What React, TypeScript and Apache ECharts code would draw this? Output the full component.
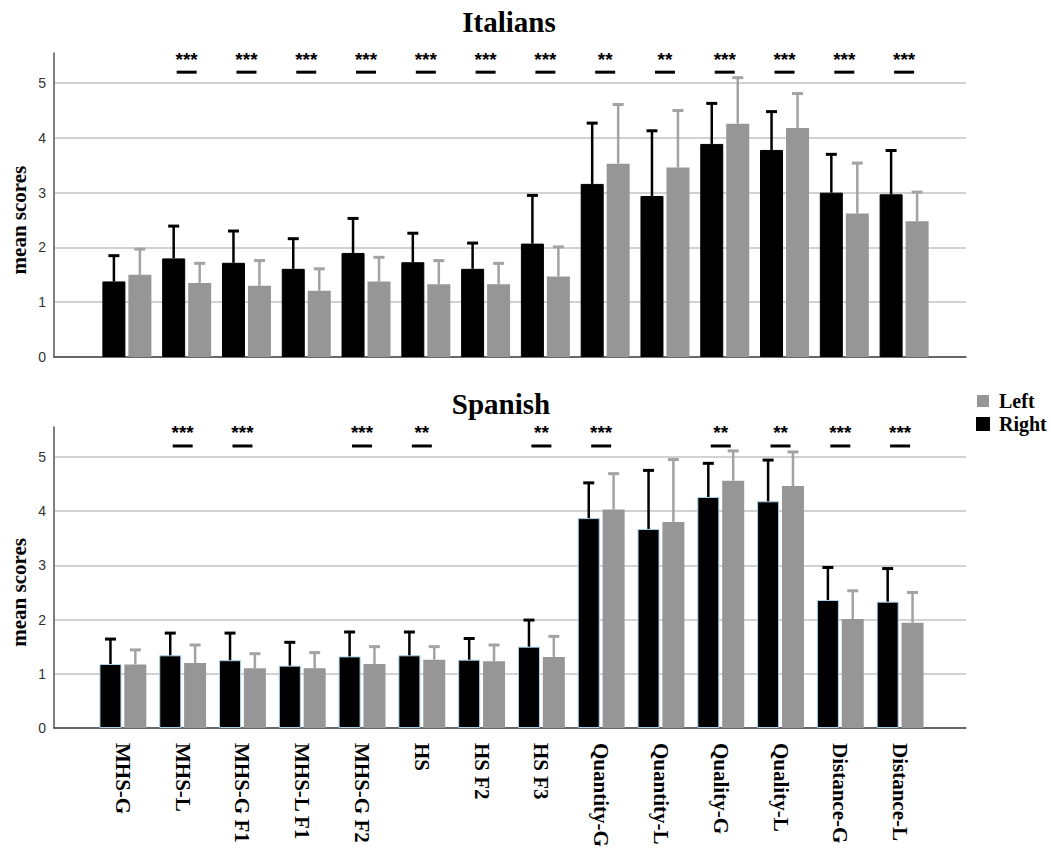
import React, { useEffect, useRef } from "react";
import * as echarts from "echarts";

// Subscale names shared by both panels
const categories = [
  "MHS-G", "MHS-L", "MHS-G F1", "MHS-L F1", "MHS-G F2", "HS", "HS F2", "HS F3",
  "Quantity-G", "Quantity-L", "Quality-G", "Quality-L", "Distance-G", "Distance-L",
];

// Italians: means and standard deviations per hand
const italiansRight = [1.38, 1.80, 1.72, 1.61, 1.90, 1.73, 1.61, 2.07, 3.16, 2.94, 3.89, 3.78, 3.00, 2.97];
const italiansRightSd = [0.47, 0.59, 0.58, 0.55, 0.63, 0.53, 0.47, 0.88, 1.11, 1.19, 0.74, 0.70, 0.70, 0.80];
const italiansLeft = [1.50, 1.35, 1.30, 1.21, 1.38, 1.33, 1.33, 1.47, 3.53, 3.46, 4.26, 4.18, 2.62, 2.48];
const italiansLeftSd = [0.47, 0.36, 0.46, 0.40, 0.44, 0.43, 0.38, 0.54, 1.08, 1.04, 0.84, 0.63, 0.92, 0.53];
const italiansSig = ["", "***", "***", "***", "***", "***", "***", "***", "**", "**", "***", "***", "***", "***"];

// Spanish: means and standard deviations per hand
const spanishRight = [1.18, 1.34, 1.25, 1.15, 1.32, 1.34, 1.26, 1.50, 3.87, 3.67, 4.26, 4.18, 2.36, 2.33];
const spanishRightSd = [0.46, 0.41, 0.50, 0.43, 0.45, 0.43, 0.39, 0.49, 0.65, 1.08, 0.62, 0.76, 0.60, 0.61];
const spanishLeft = [1.17, 1.20, 1.10, 1.10, 1.18, 1.26, 1.23, 1.31, 4.03, 3.80, 4.56, 4.46, 2.01, 1.94];
const spanishLeftSd = [0.27, 0.33, 0.27, 0.29, 0.32, 0.24, 0.30, 0.38, 0.66, 1.15, 0.55, 0.63, 0.52, 0.56];
const spanishSig = ["", "***", "***", "", "***", "**", "", "**", "***", "", "**", "**", "***", "***"];

// Value axis
const yTicks = [0, 1, 2, 3, 4, 5];
const Y_TOP = 5.55;
const SIG_LEVEL = 5.2;

const SERIF = "'Liberation Serif', 'Times New Roman', serif";
const SANS = "'Liberation Sans', Arial, sans-serif";
const RIGHT_COLOR = "#000000";
const LEFT_COLOR = "#969696";
const LEFT_ERR_COLOR = "#a3a3a3";
const BAR_GAP = 0.13;
const CAP_WIDTH = 11;
const W = 1051;
const H = 850;

type Panel = {
  title: string;
  titleX: number;
  titleTop: number;
  top: number; // pixel of Y_TOP
  zero: number; // pixel of value 0
  barsLeft: number;
  barsRight: number;
  barWidth: number;
  right: number[];
  rightSd: number[];
  left: number[];
  leftSd: number[];
  sig: string[];
  showLabels: boolean;
  rightBorder: string;
};

const panels: Panel[] = [
  {
    title: "Italians", titleX: 504, titleTop: 2, top: 53, zero: 357,
    barsLeft: 97, barsRight: 934, barWidth: 23,
    right: italiansRight, rightSd: italiansRightSd, left: italiansLeft, leftSd: italiansLeftSd,
    sig: italiansSig, showLabels: false, rightBorder: "#000000",
  },
  {
    title: "Spanish", titleX: 496, titleTop: 384, top: 427, zero: 728,
    barsLeft: 93, barsRight: 930, barWidth: 22,
    right: spanishRight, rightSd: spanishRightSd, left: spanishLeft, leftSd: spanishLeftSd,
    sig: spanishSig, showLabels: true, rightBorder: "#a9d3ea",
  },
];

const FRAME_LEFT = 54;
const FRAME_RIGHT = 966;

function errorSeries(name: string, means: number[], sds: number[], color: string, side: number,
  axisIndex: number, barWidth: number) {
  const offset = (barWidth * (1 + BAR_GAP)) / 2;
  return {
    type: "custom",
    name: name + " SD",
    xAxisIndex: axisIndex,
    yAxisIndex: axisIndex,
    silent: true,
    z: 3,
    data: means.map((m, i) => [i, m, m + sds[i]]),
    renderItem: (_params: any, api: any) => {
      const i = api.value(0);
      const base = api.coord([i, api.value(1)]);
      const top = api.coord([i, api.value(2)]);
      const x = base[0] + side * offset;
      return {
        type: "group",
        children: [
          { type: "line", shape: { x1: x, y1: base[1], x2: x, y2: top[1] }, style: { stroke: color, lineWidth: 2.5 } },
          {
            type: "line",
            shape: { x1: x - CAP_WIDTH / 2, y1: top[1], x2: x + CAP_WIDTH / 2, y2: top[1] },
            style: { stroke: color, lineWidth: 3 },
          },
        ],
      };
    },
  };
}

function buildOption() {
  const grid: any[] = [];
  const xAxis: any[] = [];
  const yAxis: any[] = [];
  const series: any[] = [];
  const title: any[] = [];

  panels.forEach((p, pi) => {
    const height = p.zero - p.top;
    const unit = height / Y_TOP;
    const fiveTop = p.zero - unit * 5;
    const base = pi * 3;

    title.push({
      text: p.title, left: p.titleX, top: p.titleTop, textAlign: "center",
      textStyle: { fontFamily: SERIF, fontWeight: "bold", fontSize: 29, color: "#000" },
    });

    // frame: value axis line, tick labels and baseline
    grid.push({ left: FRAME_LEFT, width: FRAME_RIGHT - FRAME_LEFT, top: p.top, height });
    xAxis.push({
      type: "value", gridIndex: base, min: 0, max: 1, position: "bottom",
      axisLine: { show: true, onZero: false, lineStyle: { color: "#444", width: 1.5 } },
      axisTick: { show: false }, axisLabel: { show: false }, splitLine: { show: false },
    });
    yAxis.push({
      type: "value", gridIndex: base, min: 0, max: Y_TOP, interval: 1,
      axisLine: { show: true, lineStyle: { color: "#555", width: 1.5 } },
      axisTick: { show: false }, splitLine: { show: false },
      axisLabel: {
        margin: 8, fontFamily: SANS, fontSize: 14, color: "#333",
        formatter: (v: number) => (yTicks.includes(v) ? String(v) : ""),
      },
    });

    // horizontal gridlines from 0 to 5, plus axis title
    grid.push({ left: FRAME_LEFT, width: FRAME_RIGHT - FRAME_LEFT, top: fiveTop, height: p.zero - fiveTop });
    xAxis.push({ type: "value", gridIndex: base + 1, min: 0, max: 1, show: false });
    yAxis.push({
      type: "value", gridIndex: base + 1, min: 0, max: 5, interval: 1,
      axisLine: { show: false }, axisTick: { show: false }, axisLabel: { show: false },
      splitLine: { show: true, lineStyle: { color: "#c2c2c2", width: 1.5 } },
      name: "mean scores", nameLocation: "middle", nameRotate: 90, nameGap: 26,
      nameTextStyle: { fontFamily: SERIF, fontWeight: "bold", fontSize: 21, color: "#000" },
    });

    // bars
    grid.push({ left: p.barsLeft, width: p.barsRight - p.barsLeft, top: p.top, height });
    xAxis.push({
      type: "category", gridIndex: base + 2, data: categories,
      axisLine: { show: false }, axisTick: { show: false },
      axisLabel: {
        show: p.showLabels, rotate: -90, margin: 15, interval: 0,
        fontFamily: SERIF, fontWeight: "bold", fontSize: 21, color: "#000",
      },
    });
    yAxis.push({ type: "value", gridIndex: base + 2, min: 0, max: Y_TOP, show: false, splitLine: { show: false } });

    series.push({
      type: "bar", name: "Right", xAxisIndex: base + 2, yAxisIndex: base + 2,
      data: p.right, barWidth: p.barWidth, barGap: `${BAR_GAP * 100}%`,
      itemStyle: { color: RIGHT_COLOR, borderColor: p.rightBorder, borderWidth: 1 },
    });
    series.push({
      type: "bar", name: "Left", xAxisIndex: base + 2, yAxisIndex: base + 2,
      data: p.left, barWidth: p.barWidth, barGap: `${BAR_GAP * 100}%`,
      itemStyle: { color: LEFT_COLOR },
    });
    series.push(errorSeries("Right", p.right, p.rightSd, RIGHT_COLOR, -1, base + 2, p.barWidth));
    series.push(errorSeries("Left", p.left, p.leftSd, LEFT_ERR_COLOR, 1, base + 2, p.barWidth));

    // significance markers
    series.push({
      type: "scatter", name: "sig", xAxisIndex: base + 2, yAxisIndex: base + 2, silent: true,
      symbol: "rect", symbolSize: [20, 3], itemStyle: { color: "#000", opacity: 1 },
      data: p.sig.map((s, i) => (s ? [i, SIG_LEVEL, s] : null)).filter((d) => d !== null),
      label: {
        show: true, position: "top", distance: 2,
        formatter: (d: any) => d.value[2],
        fontFamily: SANS, fontWeight: "bold", fontSize: 19, color: "#000",
      },
    });
  });

  return {
    animation: false,
    backgroundColor: "#fff",
    title,
    legend: {
      orient: "vertical", left: 971, top: 385, itemWidth: 12, itemHeight: 12, itemGap: 1,
      icon: "rect", data: ["Left", "Right"], selectedMode: false,
      textStyle: { fontFamily: SERIF, fontWeight: "bold", fontSize: 20, color: "#000", lineHeight: 22, padding: [0, 0, 0, 5] },
    },
    grid,
    xAxis,
    yAxis,
    series,
  };
}

export default function App() {
  const ref = useRef<HTMLDivElement>(null);
  useEffect(() => {
    if (!ref.current) return;
    const chart = echarts.init(ref.current, undefined, { renderer: "svg" });
    chart.setOption(buildOption() as any);
    return () => chart.dispose();
  }, []);
  return <div ref={ref} style={{ position: "absolute", left: 0, top: 0, width: W, height: H }} />;
}
